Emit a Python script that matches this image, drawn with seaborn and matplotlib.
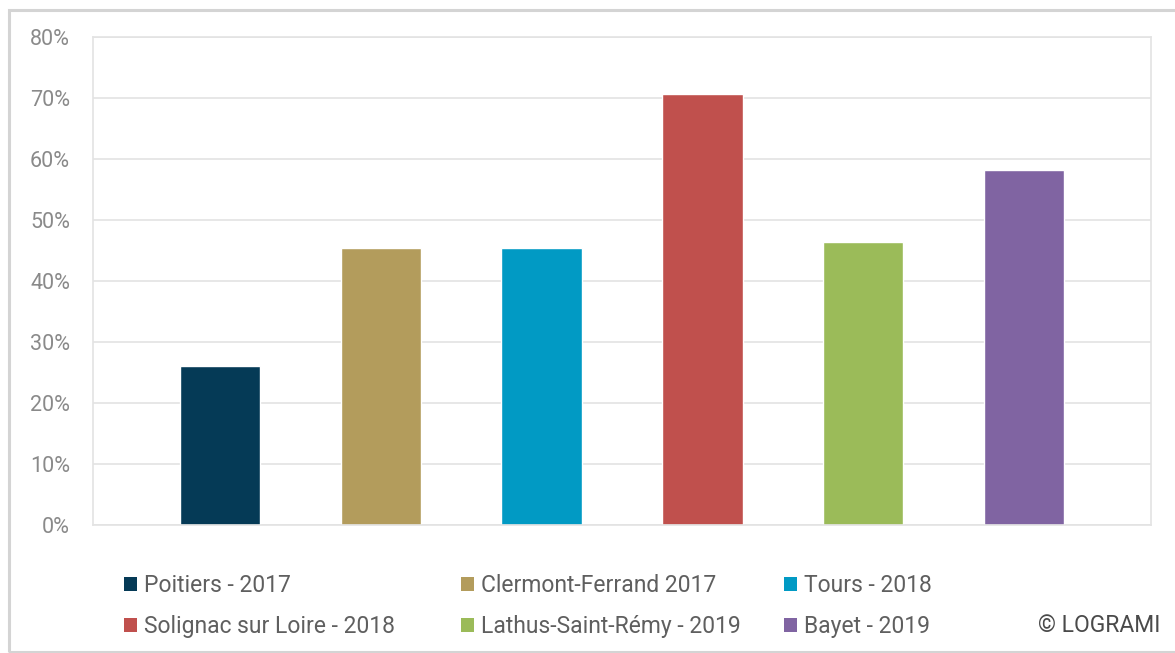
import matplotlib
matplotlib.use("Agg")
import matplotlib.pyplot as plt
from matplotlib.patches import Patch, Rectangle
from matplotlib.ticker import FuncFormatter, MultipleLocator
import seaborn as sns
import pandas as pd

# Share of values per study site (percent)
sites = [
    "Poitiers - 2017",
    "Clermont-Ferrand 2017",
    "Tours - 2018",
    "Solignac sur Loire - 2018",
    "Lathus-Saint-Rémy - 2019",
    "Bayet - 2019",
]
values = [26.1, 45.4, 45.4, 70.7, 46.4, 58.2]
colors = ["#053A56", "#B39C5C", "#019AC4", "#C0504D", "#9BBB59", "#8064A2"]

df = pd.DataFrame({"site": sites, "value": values})

sns.set_theme(style="white")
plt.rcParams["font.family"] = ["Roboto", "DejaVu Sans"]

W, H = 1175, 653
fig = plt.figure(figsize=(W / 100, H / 100), dpi=100)
ax = fig.add_axes([93 / W, 1 - 525 / H, (1151 - 93) / W, (525 - 37) / H])

sns.barplot(data=df, x="site", y="value", hue="site", palette=colors,
            dodge=False, legend=False, width=0.5, saturation=1, ax=ax)

ax.set_xlim(-0.79, 5.79)
ax.set_ylim(0, 80)
ax.yaxis.set_major_locator(MultipleLocator(10))
ax.yaxis.set_major_formatter(FuncFormatter(lambda v, _: f"{int(v)}%"))
ax.grid(axis="y", color="#e3e3e3", linewidth=1.2)
ax.set_axisbelow(True)
ax.set_xticks([])
ax.set_xlabel("")
ax.set_ylabel("")
ax.tick_params(axis="y", length=0, pad=16.5, labelsize=15.5, labelcolor="#8a8a8a")
for s in ax.spines.values():
    s.set_visible(True)
    s.set_color("#e3e3e3")
    s.set_linewidth(1.2)

# Legend: three columns of two entries each
col_x = [124, 461, 784]
for c, x in enumerate(col_x):
    idx = [c, c + 3]
    handles = [Patch(facecolor=colors[i], edgecolor="none") for i in idx]
    labels = [sites[i] for i in idx]
    fig.legend(handles, labels, ncol=1, loc="upper left",
               bbox_to_anchor=(x / W, 1 - 574 / H), frameon=False,
               fontsize=16.5, labelcolor="#5f5f5f", handlelength=0.55,
               handleheight=0.55, handletextpad=0.33,
               labelspacing=0.78, borderaxespad=0, borderpad=0)

fig.text(1160 / W, 1 - 625 / H, "© LOGRAMI", ha="right", va="center",
         fontsize=16.5, color="#4a4a4a")

# Outer frame
fig.patches.append(Rectangle((8.5 / W, 1.5 / H), 1.0, (651 - 9) / H,
                             transform=fig.transFigure, fill=False,
                             edgecolor="#d4d4d4", linewidth=2.2))

fig.savefig("out.png", dpi=100)
